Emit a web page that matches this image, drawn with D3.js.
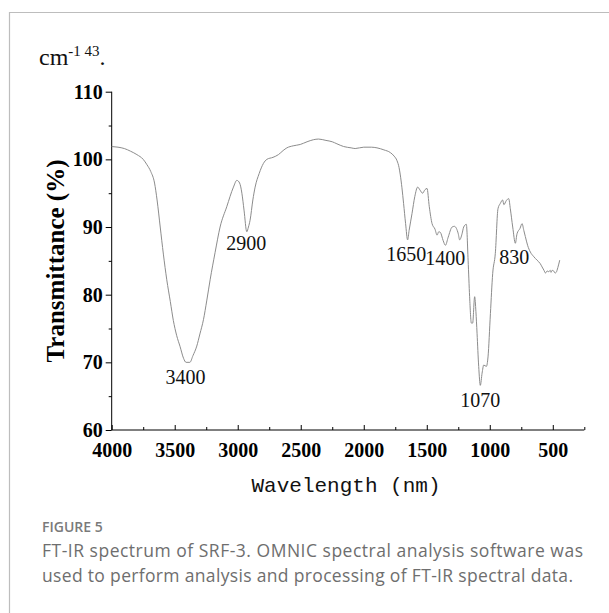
<!DOCTYPE html>
<html>
<head>
<meta charset="utf-8">
<script src="https://cdn.jsdelivr.net/npm/d3@7"></script>
<style>
html,body{margin:0;padding:0;background:#fff;}
svg{display:block;}
</style>
</head>
<body>
<svg id="chart" width="609" height="613"></svg>
<script>
// ---- data ----
const wavenumbers = [4000,3950,3900,3850,3800,3750,3720,3690,3660,3640,3615,3590,3563,3535,3511,3485,3457,3430,3410,3380,3355,3325,3300,3272,3245,3219,3180,3140,3087,3034,3007,2985,2967,2950,2928,2915,2902,2880,2862,2830,2796,2769,2720,2677,2640,2610,2560,2504,2450,2400,2359,2300,2250,2213,2160,2100,2068,2000,1940,1895,1840,1789,1760,1736,1720,1710,1697,1684,1668,1652,1640,1617,1595,1572,1555,1533,1515,1498,1480,1458,1435,1418,1405,1392,1370,1352,1330,1299,1280,1265,1250,1239,1220,1207,1186,1172,1160,1146,1136,1120,1110,1101,1088,1075,1061,1048,1027,1014,995,977,956,935,916,898,888,869,850,837,818,797,784,760,744,730,718,700,678,650,625,600,585,570,558,545,532,520,514,505,493,482,473,460,445];
const transmittance = [101.9,101.8,101.6,101.2,100.7,100.0,99.2,98.2,96.5,94.0,90.0,86.0,82.2,79.0,76.2,74.0,72.3,70.6,70.0,70.0,71.0,72.4,74.2,76.3,79.2,82.2,86.2,90.0,93.0,95.9,96.9,96.5,95.0,92.5,89.3,90.0,91.0,94.0,95.9,97.9,99.4,100.0,100.3,100.7,101.3,101.7,102.0,102.2,102.6,102.9,103.0,102.8,102.6,102.3,101.9,101.7,101.6,101.8,101.8,101.7,101.4,101.0,100.5,99.8,98.8,97.7,95.8,93.5,90.5,88.1,89.5,92.0,94.5,95.9,95.5,95.0,95.5,95.7,93.0,90.5,89.7,88.8,89.3,89.2,88.0,87.3,88.5,90.0,90.1,89.8,89.0,88.1,89.0,90.0,90.4,85.1,79.7,75.8,75.8,79.7,77.5,74.3,69.4,66.6,68.4,69.6,69.4,70.8,77.2,83.1,86.1,92.7,93.5,94.0,93.3,93.9,94.2,92.7,90.0,87.6,89.0,89.8,90.5,89.5,88.6,87.3,86.3,85.6,85.1,84.6,84.1,83.6,83.2,83.5,83.4,83.6,83.3,83.6,83.5,83.2,83.3,84.0,85.1];
const xMajorTicks = [4000,3500,3000,2500,2000,1500,1000,500];
const xMinorTicks = [3750,3250,2750,2250,1750,1250,750,250];
const yMajorTicks = [60,70,80,90,100,110];
const yMinorTicks = [65,75,85,95,105];
const peakLabels = ["3400","2900","1650","1400","1070","830"];
const peakLabelX = [3414,2933,1662,1353,1075,805];
const peakLabelY = [67.9,87.6,86.0,85.4,64.4,85.6];

const svg = d3.select("#chart");
const serif = "Liberation Serif, Times New Roman, serif";

// frame
svg.append("line").attr("x1",9).attr("y1",12.5).attr("x2",609).attr("y2",12.5).attr("stroke","#bdbdbd").attr("stroke-width",1.2);
svg.append("line").attr("x1",9.5).attr("y1",12).attr("x2",9.5).attr("y2",613).attr("stroke","#bdbdbd").attr("stroke-width",1.2);

// top fragment text
const frag = svg.append("text").attr("x",39).attr("y",65)
  .attr("font-family",serif).attr("font-size",24).attr("fill","#111");
frag.append("tspan").text("cm");
frag.append("tspan").attr("font-size",15).attr("dy",-9).text("-1 43");
frag.append("tspan").attr("dy",9).text(".");

const x = d3.scaleLinear().domain([4000,250]).range([111.7,584.3]);
const y = d3.scaleLinear().domain([60,110]).range([430,91.7]);

// axes
const gx = svg.append("g").attr("transform",`translate(0,${y(60)})`);
gx.call(d3.axisBottom(x).tickValues(xMajorTicks).tickSize(-5).tickPadding(9).tickFormat(d3.format("d")));
const gxm = svg.append("g").attr("transform",`translate(0,${y(60)})`);
gxm.call(d3.axisBottom(x).tickValues(xMinorTicks).tickSize(-3).tickFormat(""));
gxm.select(".domain").remove();
gx.selectAll("text").attr("font-family",serif).attr("font-weight","bold").attr("font-size",20).attr("fill","#000").attr("dy","0.9em");

const gy = svg.append("g").attr("transform",`translate(${x(4000)},0)`);
gy.call(d3.axisLeft(y).tickValues(yMajorTicks).tickSize(6).tickPadding(3).tickFormat(d3.format("d")));
const gym = svg.append("g").attr("transform",`translate(${x(4000)},0)`);
gym.call(d3.axisLeft(y).tickValues(yMinorTicks).tickSize(3).tickFormat(""));
gym.select(".domain").remove();
gy.selectAll("text").attr("font-family",serif).attr("font-weight","bold").attr("font-size",20).attr("fill","#000");
svg.selectAll(".domain").attr("stroke","#000").attr("stroke-width",1);
svg.selectAll(".tick line").attr("stroke","#000").attr("stroke-width",1);
gy.select(".domain").attr("d",`M0,${y(110)}V${y(60)}`);
gx.select(".domain").attr("d",`M${x(4000)},0H${x(250)}`);

// spectrum line
const pts = wavenumbers.map((w,i)=>[w,transmittance[i]]);
const line = d3.line().x(d=>x(d[0])).y(d=>y(d[1])).curve(d3.curveMonotoneX);
svg.append("path").datum(pts).attr("d",line).attr("fill","none").attr("stroke","#8c8c8c").attr("stroke-width",1);

// peak labels
svg.append("g").selectAll("text").data(peakLabels).join("text")
  .attr("x",(d,i)=>x(peakLabelX[i]))
  .attr("y",(d,i)=>y(peakLabelY[i]))
  .attr("text-anchor","middle").attr("dominant-baseline","central")
  .attr("font-family",serif).attr("font-size",20).attr("fill","#111")
  .text(d=>d);

// axis titles
svg.append("text").attr("transform",`translate(55,261) rotate(-90)`)
  .attr("text-anchor","middle").attr("dominant-baseline","central")
  .attr("font-family",serif).attr("font-weight","bold").attr("font-size",25).attr("fill","#000")
  .text("Transmittance (%)");
svg.append("text").attr("x",346).attr("y",486)
  .attr("text-anchor","middle").attr("dominant-baseline","central")
  .attr("font-family","Liberation Mono, monospace").attr("font-size",21).attr("fill","#111")
  .text("Wavelength (nm)");

// caption
svg.append("text").attr("x",42).attr("y",532)
  .attr("font-family","Open Sans, sans-serif").attr("font-weight",600).attr("font-size",14).attr("fill","#7a7a7a")
  .text("FIGURE 5");
svg.append("text").attr("x",42).attr("y",557)
  .attr("font-family","Open Sans, sans-serif").attr("font-size",17.5).attr("fill","#6e6e6e")
  .attr("textLength",541).attr("lengthAdjust","spacing")
  .text("FT-IR spectrum of SRF-3. OMNIC spectral analysis software was");
svg.append("text").attr("x",42).attr("y",582)
  .attr("font-family","Open Sans, sans-serif").attr("font-size",17.5).attr("fill","#6e6e6e")
  .attr("textLength",531).attr("lengthAdjust","spacing")
  .text("used to perform analysis and processing of FT-IR spectral data.");
</script>
</body>
</html>
